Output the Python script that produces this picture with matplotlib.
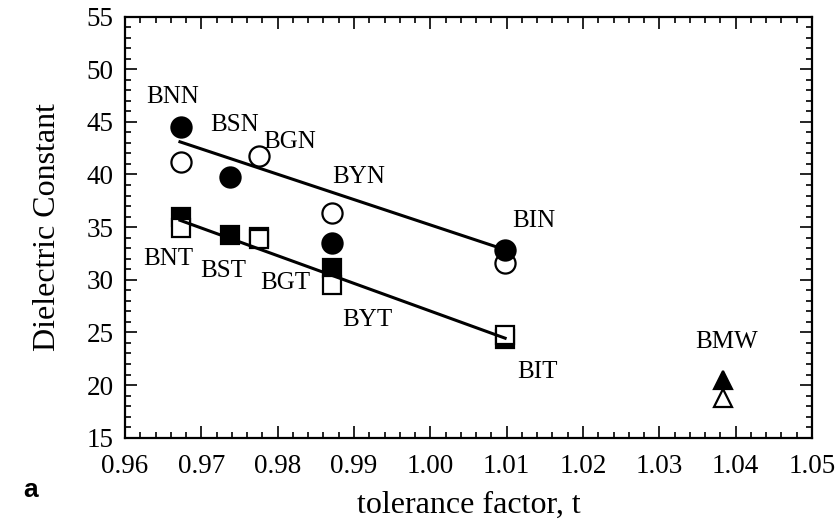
import matplotlib
matplotlib.use("Agg")
import matplotlib.pyplot as plt
from matplotlib.ticker import MultipleLocator, FormatStrFormatter

plt.rcParams['font.family'] = ['Liberation Serif', 'DejaVu Serif']

# tolerance factor of each compound
t_nn, t_sn, t_gn, t_yn, t_in = 0.9674, 0.9737, 0.9775, 0.9871, 1.0098
t_mw = 1.0384

# niobates (circles)
nb_filled_t = [t_nn, t_sn, t_yn, t_in]
nb_filled_k = [44.5, 39.8, 33.45, 32.85]
nb_open_t = [t_nn, t_gn, t_yn, t_in]
nb_open_k = [41.2, 41.75, 36.35, 31.6]

# tantalates (squares)
ta_filled_t = [t_nn, t_sn, t_gn, t_yn, t_in]
ta_filled_k = [36.0, 34.25, 34.1, 31.1, 24.4]
ta_open_t = [t_nn, t_gn, t_yn, t_in]
ta_open_k = [34.9, 33.85, 29.5, 24.75]

# tungstate (triangles)
mw_filled_k = [20.5]
mw_open_k = [18.75]

# straight-line fits
fit_t = [0.9672, 1.0098]
fit_nb = [43.1, 32.85]
fit_ta = [35.65, 24.45]

labels = ["BNN", "BSN", "BGN", "BYN", "BIN",
          "BNT", "BST", "BGT", "BYT", "BIT", "BMW"]
label_t = [0.9663, 0.9744, 0.9816, 0.9906, 1.0136,
           0.9657, 0.9729, 0.9810, 0.9917, 1.0140, 1.0388]
label_k = [47.4, 44.7, 43.1, 39.8, 35.6,
           32.0, 30.8, 29.65, 26.2, 21.25, 24.05]

fig = plt.figure(figsize=(8.36, 5.21), dpi=100)
ax = fig.add_axes([0.1495, 0.1599, 0.8218, 0.8084])

ms_c, ms_s, ms_t, mew = 14.5, 13, 13.5, 1.6
ax.plot(ta_filled_t, ta_filled_k, 's', color='black', ms=ms_s, mew=mew, zorder=3)
ax.plot(ta_open_t, ta_open_k, 's', mfc='white', mec='black', ms=ms_s, mew=mew, zorder=4)
ax.plot(nb_open_t, nb_open_k, 'o', mfc='white', mec='black', ms=ms_c, mew=mew, zorder=3)
ax.plot(nb_filled_t, nb_filled_k, 'o', color='black', ms=ms_c, mew=mew, zorder=4)
ax.plot([t_mw], mw_filled_k, '^', color='black', ms=ms_t, mew=mew, zorder=4)
ax.plot([t_mw], mw_open_k, '^', mfc='white', mec='black', ms=ms_t, mew=mew, zorder=4)

ax.plot(fit_t, fit_nb, '-', color='black', lw=2.2, zorder=5)
ax.plot(fit_t, fit_ta, '-', color='black', lw=2.2, zorder=5)

for name, x, y in zip(labels, label_t, label_k):
    ax.text(x, y, name, fontsize=18, ha='center', va='center', zorder=6)

ax.set_xlim(0.96, 1.05)
ax.set_ylim(15, 55)
ax.xaxis.set_major_locator(MultipleLocator(0.01))
ax.xaxis.set_minor_locator(MultipleLocator(0.002))
ax.yaxis.set_major_locator(MultipleLocator(5))
ax.yaxis.set_minor_locator(MultipleLocator(1))
ax.xaxis.set_major_formatter(FormatStrFormatter('%.2f'))
ax.tick_params(which='both', direction='in', top=True, right=True, width=1.2)
ax.tick_params(which='major', length=8.5)
ax.tick_params(which='minor', length=4.5)
ax.tick_params(axis='x', which='major', labelsize=19.5, pad=12)
ax.tick_params(axis='y', which='major', labelsize=19.5, pad=8)
for sp in ax.spines.values():
    sp.set_linewidth(1.6)

ax.set_xlabel("tolerance factor, t", fontsize=23, labelpad=8)
ax.set_ylabel("Dielectric Constant", fontsize=23, labelpad=18)

fig.text(0.036, 0.06, "a", fontsize=19, fontweight='bold',
         family=['Liberation Sans', 'DejaVu Sans'], ha='center', va='center')

fig.savefig("out.png", dpi=100)
